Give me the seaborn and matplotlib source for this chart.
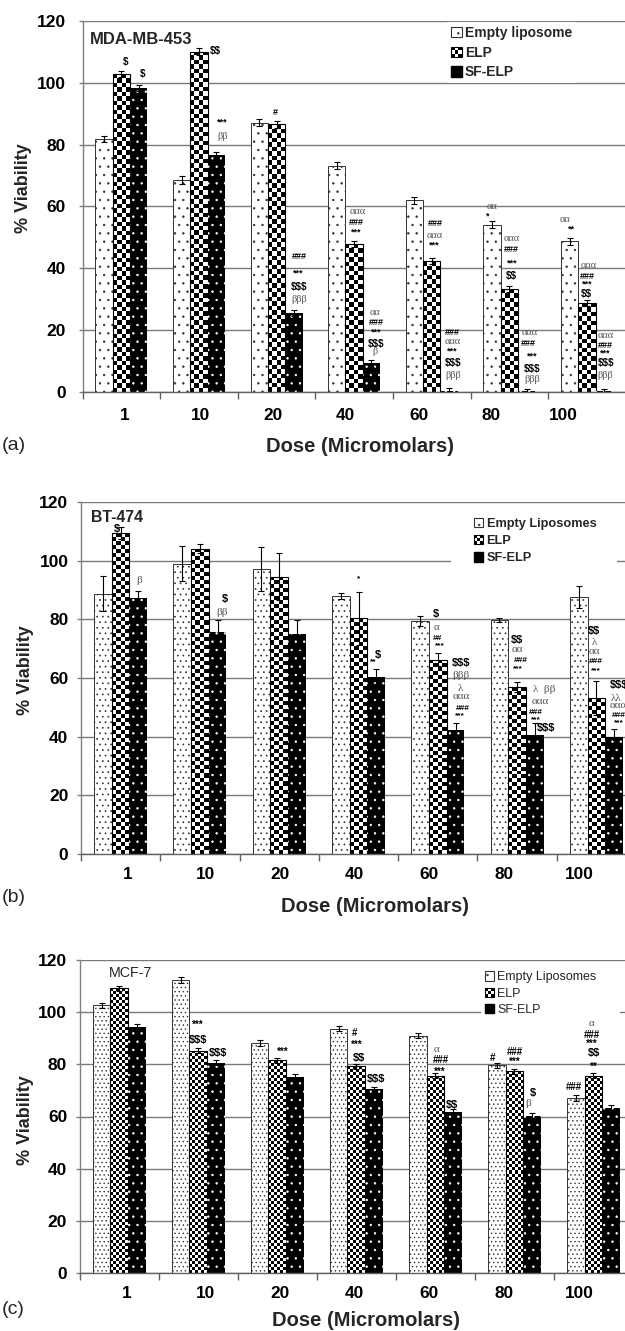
import numpy as np
import pandas as pd
import matplotlib
matplotlib.use("Agg")
import matplotlib.pyplot as plt
import seaborn as sns
from matplotlib.patches import Rectangle, Patch
from matplotlib.legend_handler import HandlerBase

# ---------------- data ----------------
doses = ["1", "10", "20", "40", "60", "80", "100"]

a_series = ["Empty liposome", "ELP", "SF-ELP"]
a_empty = [81.7, 68.5, 87.1, 73.2, 61.9, 54.0, 48.7]
a_elp = [102.8, 110.1, 86.5, 47.7, 42.4, 33.3, 28.6]
a_sf = [98.2, 76.5, 25.4, 9.2, 0.3, 0.2, 0.2]
a_empty_err = [1.0, 1.2, 1.2, 1.1, 1.0, 1.1, 1.1]
a_elp_err = [1.0, 1.0, 1.0, 1.0, 1.0, 1.0, 1.0]
a_sf_err = [1.0, 1.0, 1.0, 1.2, 0.8, 0.8, 0.8]

b_series = ["Empty Liposomes", "ELP", "SF-ELP"]
b_empty = [88.7, 98.9, 97.0, 88.1, 79.3, 79.8, 87.6]
b_elp = [109.4, 104.1, 94.6, 80.3, 66.2, 56.8, 53.1]
b_sf = [87.3, 75.8, 74.9, 60.5, 42.2, 40.6, 40.0]
b_empty_err = [6.0, 6.0, 7.5, 1.0, 1.7, 0.8, 3.6]
b_elp_err = [2.0, 1.6, 8.0, 9.0, 2.2, 1.7, 5.8]
b_sf_err = [2.3, 3.9, 5.0, 2.5, 2.3, 3.9, 2.5]

c_series = ["Empty Liposomes", "ELP", "SF-ELP"]
c_empty = [102.7, 112.3, 88.3, 93.6, 91.0, 79.6, 67.0]
c_elp = [109.2, 85.2, 81.5, 79.3, 75.6, 77.4, 75.6]
c_sf = [94.4, 80.6, 75.2, 70.5, 61.7, 60.3, 63.3]
c_empty_err = [1.0, 1.0, 1.1, 1.0, 0.9, 1.0, 1.2]
c_elp_err = [1.0, 1.0, 1.0, 1.0, 1.0, 1.0, 1.0]
c_sf_err = [1.2, 1.0, 1.0, 1.0, 1.0, 1.0, 1.0]

# significance marks: (category position, y value, text, kind)  s = symbol, g = greek
a_marks = [
    (0.05, 106.8, "$", "s"), (0.27, 102.8, "$", "s"), (1.21, 110.4, "$$", "s"),
    (1.30, 87.4, "***", "s"), (1.30, 82.5, "ββ", "g"), (1.99, 90.3, "#", "s"),
    (2.29, 43.9, "###", "s"), (2.28, 38.3, "***", "s"), (2.29, 34.0, "$$$", "s"), (2.29, 29.7, "βββ", "g"),
    (3.04, 58.2, "ααα", "g"), (3.03, 54.7, "###", "s"), (3.02, 51.8, "***", "s"),
    (3.27, 25.7, "αα", "g"), (3.28, 22.4, "###", "s"), (3.28, 19.4, "***", "s"),
    (3.28, 15.6, "$$$", "s"), (3.27, 12.9, "β", "g"),
    (4.04, 54.5, "###", "s"), (4.04, 50.5, "ααα", "g"), (4.03, 47.5, "***", "s"),
    (4.27, 19.1, "###", "s"), (4.27, 16.2, "ααα", "g"), (4.26, 13.2, "***", "s"),
    (4.28, 9.2, "$$$", "s"), (4.28, 5.2, "βββ", "g"),
    (4.78, 59.9, "αα", "g"), (4.72, 56.9, "*", "s"),
    (5.03, 49.6, "ααα", "g"), (5.03, 46.1, "###", "s"), (5.03, 41.5, "***", "s"), (5.02, 37.4, "$$", "s"),
    (5.26, 19.2, "ααα", "g"), (5.25, 15.6, "###", "s"), (5.29, 11.5, "***", "s"),
    (5.29, 7.3, "$$$", "s"), (5.29, 3.8, "βββ", "g"),
    (5.72, 55.9, "αα", "g"), (5.80, 52.7, "**", "s"),
    (6.02, 41.0, "ααα", "g"), (6.01, 37.2, "###", "s"), (6.00, 34.9, "***", "s"), (5.99, 31.5, "$$", "s"),
    (6.24, 18.3, "ααα", "g"), (6.24, 14.9, "###", "s"), (6.23, 12.4, "***", "s"),
    (6.24, 9.2, "$$$", "s"), (6.24, 5.2, "βββ", "g"),
]
b_marks = [
    (-0.05, 110.9, "$", "s"), (0.24, 93.3, "β", "g"),
    (1.31, 86.8, "$", "s"), (1.28, 82.2, "ββ", "g"),
    (3.00, 93.9, "*", "s"), (3.25, 68.0, "$", "s"), (3.19, 65.6, "**", "s"),
    (3.98, 81.8, "$", "s"), (3.98, 77.1, "α", "g"), (4.00, 73.5, "##", "s"), (4.03, 70.9, "***", "s"),
    (4.29, 65.0, "$$$", "s"), (4.29, 60.7, "βββ", "g"), (4.29, 56.5, "λ", "g"),
    (4.29, 53.6, "ααα", "g"), (4.31, 49.7, "###", "s"), (4.28, 47.1, "***", "s"),
    (5.00, 72.9, "$$", "s"), (5.00, 69.8, "αα", "g"), (5.04, 65.8, "###", "s"), (5.01, 63.1, "***", "s"),
    (5.34, 56.1, "λ  ββ", "g"), (5.29, 51.9, "ααα", "g"), (5.24, 48.1, "###", "s"),
    (5.24, 45.9, "***", "s"), (5.37, 43.0, "$$$", "s"),
    (5.97, 76.1, "$$", "s"), (5.97, 72.0, "λ", "g"), (5.97, 69.2, "αα", "g"),
    (5.99, 65.6, "###", "s"), (5.99, 62.6, "***", "s"),
    (6.29, 57.6, "$$$", "s"), (6.25, 53.1, "λλ", "g"), (6.27, 50.6, "ααα", "g"),
    (6.28, 47.2, "###", "s"), (6.28, 44.9, "***", "s"),
]
c_marks = [
    (0.99, 95.0, "***", "s"), (1.00, 89.3, "$$$", "s"), (1.25, 84.2, "$$$", "s"),
    (2.07, 84.6, "***", "s"),
    (2.98, 91.9, "#", "s"), (3.01, 87.4, "***", "s"), (3.03, 82.3, "$$", "s"), (3.25, 74.2, "$$$", "s"),
    (4.01, 85.5, "α", "g"), (4.07, 81.6, "###", "s"), (4.06, 77.1, "***", "s"), (4.21, 64.6, "$$", "s"),
    (4.72, 82.3, "#", "s"), (5.01, 84.6, "###", "s"), (5.01, 81.0, "***", "s"),
    (5.23, 69.2, "$", "s"), (5.18, 65.0, "β", "g"),
    (5.75, 71.4, "###", "s"),
    (5.97, 95.7, "α", "g"), (5.98, 91.2, "###", "s"), (5.98, 88.0, "***", "s"),
    (6.01, 84.2, "$$", "s"), (6.00, 79.1, "**", "s"),
]

# tick label positions (category units) as they sit in the source figure
a_label_pos = [0.05, 1.02, 1.95, 2.89, 3.83, 4.77, 5.70]
b_label_pos = [0.09, 1.07, 2.01, 2.95, 3.89, 4.84, 5.79]
c_label_pos = [0.10, 1.09, 2.03, 2.98, 3.92, 4.87, 5.82]

# ---------------- figure ----------------
sns.set_theme(style="white")
plt.rcParams["font.family"] = ["Liberation Sans", "DejaVu Sans"]
plt.rcParams["hatch.linewidth"] = 0.5

W, H = 625, 1331
fig = plt.figure(figsize=(W / 100, H / 100), dpi=100)
SERIF = ["Liberation Serif", "DejaVu Serif"]


def fx(x):
    return x / W


def fy(y):
    return 1 - y / H


class HandlerChecker(HandlerBase):
    def create_artists(self, legend, orig_handle, xdescent, ydescent, width, height, fontsize, trans):
        n = 3
        cw, ch = width / n, height / n
        arts = []
        for i in range(n):
            for j in range(n):
                arts.append(Rectangle((-xdescent + i * cw, -ydescent + j * ch), cw, ch,
                                      facecolor="black" if (i + j) % 2 == 0 else "white",
                                      edgecolor="none", transform=trans))
        arts.append(Rectangle((-xdescent, -ydescent), width, height, facecolor="none",
                              edgecolor="black", lw=0.8, transform=trans))
        return arts


def checker_fill(ax, p, cell):
    x0, y0, w, h = p.get_x(), p.get_y(), p.get_width(), p.get_height()
    if h <= 0:
        return
    (px0, py0), (px1, py1) = ax.transData.transform([(x0, y0), (x0 + w, y0 + h)])
    nx = max(1, int(round((px1 - px0) / cell)))
    ny = max(1, int(round((py1 - py0) / cell)))
    img = np.indices((ny, nx)).sum(axis=0) % 2
    im = ax.imshow(img, cmap="gray", vmin=0, vmax=1, extent=(x0, x0 + w, y0, y0 + h),
                   origin="lower", interpolation="nearest", aspect="auto", zorder=1.5)
    im.set_clip_path(p)


def draw_panel(cfg):
    left, top, bottom = cfg["rect"]
    ax = fig.add_axes([fx(left), fy(bottom), (W - left) / W, (bottom - top) / H])
    series = cfg["series"]
    vals = cfg["empty"] + cfg["elp"] + cfg["sf"]
    errs = cfg["empty_err"] + cfg["elp_err"] + cfg["sf_err"]
    df = pd.DataFrame({
        "Dose": doses * 3,
        "Viability": vals,
        "Group": [series[0]] * 7 + [series[1]] * 7 + [series[2]] * 7,
    })
    sns.barplot(data=df, x="Dose", y="Viability", hue="Group", order=doses, hue_order=series,
                palette=["white", "white", "black"], saturation=1, width=0.67,
                errorbar=None, legend=False, ax=ax)
    ax.set_xlim(-0.5, cfg["xmax"])
    ax.set_ylim(0, 120)

    bars = list(ax.patches)
    n = len(doses)
    for k, p in enumerate(bars):
        g = k // n
        if g == 0:
            p.set_facecolor("white")
            p.set_edgecolor("#333333")
            p.set_linewidth(0.7)
            p.set_hatch(cfg["dots_empty"])
            p.set_zorder(2)
        elif g == 1:
            p.set_facecolor("none")
            p.set_edgecolor("black")
            p.set_linewidth(0.8)
            p.set_zorder(2)
            checker_fill(ax, p, cfg["cell"])
        else:
            p.set_facecolor("black")
            p.set_edgecolor("white")
            p.set_linewidth(0)
            p.set_hatch("..")
            p.set_zorder(2)

    xs = [p.get_x() + p.get_width() / 2 for p in bars]
    ys = [p.get_y() + p.get_height() for p in bars]
    ax.errorbar(xs, ys, yerr=errs, fmt="none", ecolor="black", elinewidth=0.8,
                capsize=2.2, capthick=0.8, zorder=4)

    ax.set_xlim(-0.5, cfg["xmax"])
    ax.set_ylim(0, 120)

    # axes styling
    for s in ["top", "right"]:
        ax.spines[s].set_visible(False)
    ax.spines["left"].set_color("#808080")
    ax.spines["left"].set_linewidth(1.0)
    ax.spines["bottom"].set_color("#606060")
    ax.spines["bottom"].set_linewidth(1.0)
    ax.set_yticks(range(0, 121, 20))
    ax.yaxis.grid(True, color="#7a7a7a", lw=1.0)
    ax.xaxis.grid(False)
    ax.set_axisbelow(True)
    ax.tick_params(axis="y", which="major", left=True, length=3, width=1, color="#808080",
                   pad=cfg["ypad"], labelsize=12.5)
    ax.set_xticks(np.arange(-0.5, 6.0, 1.0))
    ax.set_xticklabels([""] * 7)
    ax.tick_params(axis="x", which="major", bottom=True, length=5, width=1, color="#606060",
                   direction="out")
    ax.set_xticks(cfg["label_pos"], labels=doses, minor=True)
    ax.tick_params(axis="x", which="minor", bottom=True, length=0, pad=cfg["xpad"], labelsize=12.4)
    for lbl in ax.get_yticklabels() + ax.get_xticklabels(minor=True):
        lbl.set_fontweight("bold")
        lbl.set_color("black")
    ax.set_xlabel("")
    ax.set_ylabel("")

    # significance marks
    for (x, y, t, kind) in cfg["marks"]:
        if kind == "s":
            size = cfg["dsize"] if "$" in t else cfg["msize"]
            ax.text(x, y, t, ha="center", va="center", fontsize=size, fontweight="bold",
                    color="black", parse_math=False, zorder=5)
        else:
            ax.text(x, y, t, ha="center", va="center", fontsize=cfg["gsize"], family=SERIF,
                    color="#555555", parse_math=False, zorder=5)

    # white strip where the legend box interrupts the gridline
    if cfg.get("strip"):
        x0, x1, y0, y1 = cfg["strip"]
        ax.add_patch(Rectangle((fx(x0), fy(y1)), (x1 - x0) / W, (y1 - y0) / H, transform=fig.transFigure,
                               facecolor="white", edgecolor="none", zorder=0.8))

    # legend
    h_empty = Patch(facecolor="white", edgecolor="#333333", hatch="..", lw=0.8)
    h_elp = Patch(facecolor="white", edgecolor="black")
    h_sf = Patch(facecolor="black", edgecolor="black")
    lx, ly = cfg["leg_anchor"]
    leg = ax.legend(handles=[h_empty, h_elp, h_sf], labels=series, handler_map={h_elp: HandlerChecker()},
                    loc="upper left", bbox_to_anchor=(fx(lx), fy(ly)), bbox_transform=fig.transFigure,
                    frameon=True, facecolor="white", edgecolor="none", fancybox=False, framealpha=1,
                    borderpad=0.3, borderaxespad=0, handlelength=0.75, handleheight=0.75,
                    handletextpad=0.25, labelspacing=cfg["leg_spacing"],
                    prop={"weight": cfg["leg_weight"], "size": cfg["leg_size"]})
    leg.set_zorder(6)

    # texts
    tx, ty, ttxt, tsize, tweight = cfg["title"]
    fig.text(fx(tx), fy(ty), ttxt, ha="left", va="center", fontsize=tsize, fontweight=tweight)
    yx, yy = cfg["ylabel_xy"]
    fig.text(fx(yx), fy(yy), "% Viability", rotation=90, ha="center", va="center",
             fontsize=13, fontweight="bold")
    dx, dy = cfg["xlabel_xy"]
    fig.text(fx(dx), fy(dy), "Dose (Micromolars)", ha="center", va="center",
             fontsize=14.5, fontweight="bold")
    px, py, ptxt = cfg["panel"]
    fig.text(fx(px), fy(py), ptxt, ha="left", va="center", fontsize=14)
    return ax


panels = [
    dict(rect=(82.5, 21, 391.7), xmax=6.49, series=a_series,
         empty=a_empty, elp=a_elp, sf=a_sf, empty_err=a_empty_err, elp_err=a_elp_err, sf_err=a_sf_err,
         dots_empty="..", cell=4.5, marks=a_marks, msize=6.5, dsize=7, gsize=7.5,
         label_pos=a_label_pos, ypad=9, xpad=12,
         leg_anchor=(447, 22), leg_size=10, leg_weight="bold", leg_spacing=0.4, strip=None,
         title=(89.7, 39, "MDA-MB-453", 12, "bold"), ylabel_xy=(24, 188),
         xlabel_xy=(360.5, 446), panel=(2, 445, "(a)")),
    dict(rect=(80.9, 502, 854), xmax=6.36, series=b_series,
         empty=b_empty, elp=b_elp, sf=b_sf, empty_err=b_empty_err, elp_err=b_elp_err, sf_err=b_sf_err,
         dots_empty="...", cell=4.0, marks=b_marks, msize=6, dsize=8, gsize=8,
         label_pos=b_label_pos, ypad=6, xpad=9.4,
         leg_anchor=(470, 514), leg_size=9.2, leg_weight="bold", leg_spacing=0.4,
         strip=(451, 617, 555, 566),
         title=(91, 518, "BT-474", 11.4, "bold"), ylabel_xy=(26, 670),
         xlabel_xy=(374.6, 906), panel=(2, 897, "(b)")),
    dict(rect=(79.7, 960, 1273), xmax=6.40, series=c_series,
         empty=c_empty, elp=c_elp, sf=c_sf, empty_err=c_empty_err, elp_err=c_elp_err, sf_err=c_sf_err,
         dots_empty="....", cell=3.0, marks=c_marks, msize=7, dsize=8, gsize=8,
         label_pos=c_label_pos, ypad=6, xpad=9,
         leg_anchor=(481, 967.6), leg_size=9, leg_weight="normal", leg_spacing=0.35,
         strip=(482, 620, 1007, 1017),
         title=(108.4, 973, "MCF-7", 10.3, "normal"), ylabel_xy=(26, 1120),
         xlabel_xy=(366.5, 1320), panel=(2, 1309, "(c)")),
]

for cfg in panels:
    draw_panel(cfg)

fig.savefig("out.png", dpi=100, facecolor="white")
